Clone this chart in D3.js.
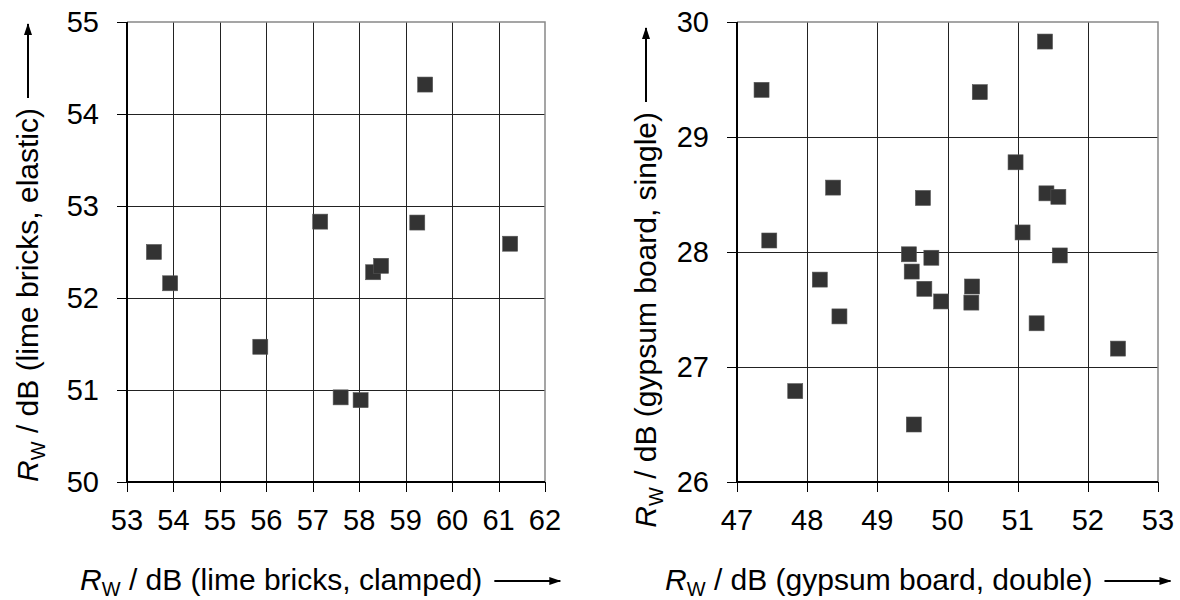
<!DOCTYPE html>
<meta charset="utf-8">
<style>
body { margin: 0; background: #fff; }
text { font-family: "Liberation Sans", Arial, sans-serif; fill: #000; }
.grid line { stroke: #222; stroke-width: 1px; shape-rendering: crispEdges; }
.frame { stroke: #888; stroke-width: 1.5px; fill: none; }
.axis { stroke: #000; stroke-width: 2px; shape-rendering: crispEdges; }
.tick { stroke: #000; stroke-width: 1px; shape-rendering: crispEdges; }
.pt { fill: #333; stroke: #555; stroke-width: 0.6px; }
</style>
<body>
<script src="https://d3js.org/d3.v7.min.js"></script>
<script>
var width = 1180, height = 600;

// left panel: lime bricks
var limeClamped = [53.58, 53.93, 55.87, 57.16, 57.60, 58.03, 58.30, 58.47, 59.25, 59.42, 61.25];
var limeElastic = [52.50, 52.16, 51.47, 52.83, 50.92, 50.89, 52.28, 52.35, 52.82, 54.32, 52.59];
var limeXTicks = [53, 54, 55, 56, 57, 58, 59, 60, 61, 62];
var limeYTicks = [50, 51, 52, 53, 54, 55];

// right panel: gypsum board
var gypDouble = [47.35, 47.46, 47.83, 48.18, 48.37, 48.46, 49.45, 49.49, 49.52, 49.65, 49.67,
                 49.77, 49.91, 50.35, 50.34, 50.46, 50.97, 51.07, 51.27, 51.39, 51.41, 51.58, 51.60, 52.43];
var gypSingle = [29.41, 28.10, 26.79, 27.76, 28.56, 27.44, 27.98, 27.83, 26.50, 28.47, 27.68,
                 27.95, 27.57, 27.70, 27.56, 29.39, 28.78, 28.17, 27.38, 29.83, 28.51, 28.48, 27.97, 27.16];
var gypXTicks = [47, 48, 49, 50, 51, 52, 53];
var gypYTicks = [26, 27, 28, 29, 30];

var svg = d3.select("body").append("svg")
    .attr("width", width)
    .attr("height", height);

var defs = svg.append("defs");
defs.append("marker")
    .attr("id", "arrow")
    .attr("viewBox", "0 0 12 8")
    .attr("refX", 11).attr("refY", 4)
    .attr("markerWidth", 12).attr("markerHeight", 8)
    .attr("markerUnits", "userSpaceOnUse")
    .attr("orient", "auto")
  .append("path")
    .attr("d", "M0,0L12,4L0,8Z")
    .attr("fill", "#000");

function panel(opt) {
  var x = d3.scaleLinear().domain(d3.extent(opt.xTicks)).range([opt.left, opt.right]);
  var y = d3.scaleLinear().domain(d3.extent(opt.yTicks)).range([opt.bottom, opt.top]);
  var g = svg.append("g");

  var grid = g.append("g").attr("class", "grid");
  grid.selectAll(".vx").data(opt.xTicks.slice(1, -1)).enter().append("line")
      .attr("x1", d => Math.round(x(d)) + 0.5).attr("x2", d => Math.round(x(d)) + 0.5)
      .attr("y1", opt.top).attr("y2", opt.bottom);
  grid.selectAll(".hy").data(opt.yTicks.slice(1, -1)).enter().append("line")
      .attr("x1", opt.left).attr("x2", opt.right)
      .attr("y1", d => Math.round(y(d)) + 0.5).attr("y2", d => Math.round(y(d)) + 0.5);

  // top and right frame
  g.append("path").attr("class", "frame")
      .attr("d", "M" + opt.left + "," + opt.top + "H" + opt.right + "V" + opt.bottom);

  // outside ticks
  g.selectAll(".ty").data(opt.yTicks).enter().append("line").attr("class", "tick")
      .attr("x1", opt.left - 10).attr("x2", opt.left)
      .attr("y1", d => Math.round(y(d)) + 0.5).attr("y2", d => Math.round(y(d)) + 0.5);
  g.selectAll(".tx").data(opt.xTicks).enter().append("line").attr("class", "tick")
      .attr("x1", d => Math.round(x(d)) + 0.5).attr("x2", d => Math.round(x(d)) + 0.5)
      .attr("y1", opt.bottom).attr("y2", opt.bottom + 10);

  // axis lines
  g.append("line").attr("class", "axis")
      .attr("x1", opt.left).attr("x2", opt.left).attr("y1", opt.top).attr("y2", opt.bottom + 1);
  g.append("line").attr("class", "axis")
      .attr("x1", opt.left).attr("x2", opt.right).attr("y1", opt.bottom).attr("y2", opt.bottom);

  // tick labels
  g.selectAll(".ly").data(opt.yTicks).enter().append("text")
      .attr("x", opt.left - 28).attr("y", d => y(d))
      .attr("dy", "0.36em").attr("text-anchor", "end")
      .style("font-size", "29px")
      .text(d => d);
  g.selectAll(".lx").data(opt.xTicks).enter().append("text")
      .attr("x", d => x(d)).attr("y", opt.bottom + 48)
      .attr("text-anchor", "middle")
      .style("font-size", "29px")
      .text(d => d);

  // points
  var data = opt.xs.map((v, i) => [v, opt.ys[i]]);
  g.selectAll(".pt").data(data).enter().append("rect").attr("class", "pt")
      .attr("x", d => x(d[0]) - 7.5).attr("y", d => y(d[1]) - 7.5)
      .attr("width", 15).attr("height", 15);

  // x title
  var xt = g.append("text")
      .attr("x", opt.xTitleX).attr("y", 590)
      .style("font-size", "30px");
  xt.append("tspan").style("font-style", "italic").text("R");
  xt.append("tspan").attr("dy", 6).style("font-size", "20px").text("W");
  xt.append("tspan").attr("dy", -6).text(" / dB (" + opt.xLabel + ")");
  var bb = xt.node().getBBox();
  g.append("line")
      .attr("x1", bb.x + bb.width + 12).attr("x2", bb.x + bb.width + 78)
      .attr("y1", 581).attr("y2", 581)
      .attr("stroke", "#000").attr("stroke-width", 2)
      .attr("marker-end", "url(#arrow)");

  // y title, right end fixed near the top
  var yt = g.append("text")
      .attr("transform", "translate(" + opt.yTitleX + "," + opt.yTitleEnd + ") rotate(-90)")
      .attr("text-anchor", "end")
      .style("font-size", "30px");
  yt.append("tspan").style("font-style", "italic").text("R");
  yt.append("tspan").attr("dy", 7).style("font-size", "20px").text("W");
  yt.append("tspan").attr("dy", -7).text(" / dB (" + opt.yLabel + ")");
  g.append("line")
      .attr("x1", opt.yTitleX - 10).attr("x2", opt.yTitleX - 10)
      .attr("y1", opt.yTitleEnd - 10).attr("y2", opt.yTitleEnd - 84)
      .attr("stroke", "#000").attr("stroke-width", 2)
      .attr("marker-end", "url(#arrow)");
}

panel({
  xs: limeClamped, ys: limeElastic, xTicks: limeXTicks, yTicks: limeYTicks,
  left: 127, right: 545, top: 22, bottom: 482,
  xLabel: "lime bricks, clamped", yLabel: "lime bricks, elastic",
  xTitleX: 80, yTitleX: 38, yTitleEnd: 108
});

panel({
  xs: gypDouble, ys: gypSingle, xTicks: gypXTicks, yTicks: gypYTicks,
  left: 737, right: 1158, top: 22, bottom: 482,
  xLabel: "gypsum board, double", yLabel: "gypsum board, single",
  xTitleX: 665, yTitleX: 656, yTitleEnd: 112
});
</script>
</body>
